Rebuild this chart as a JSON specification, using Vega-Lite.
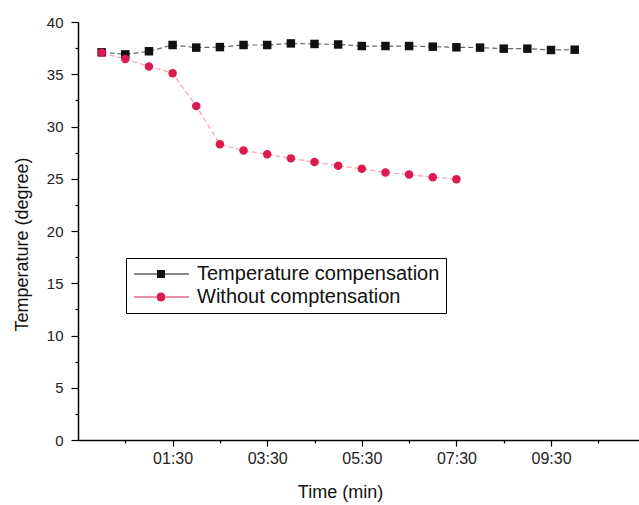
{
  "$schema": "https://vega.github.io/schema/vega-lite/v6.json",
  "width": 561,
  "height": 418,
  "autosize": {"type": "none"},
  "padding": {"left": 78, "top": 22, "right": 0, "bottom": 65},
  "background": "white",
  "config": {
    "view": {"stroke": null},
    "font": "Liberation Sans",
    "axis": {
      "grid": false,
      "domainColor": "#000",
      "domainWidth": 1.5,
      "tickColor": "#000",
      "tickWidth": 1.2,
      "labelFont": "Liberation Sans",
      "titleFont": "Liberation Sans",
      "labelColor": "#222",
      "titleColor": "#111",
      "titleFontWeight": "normal"
    }
  },
  "datasets": {
    "d": [
      {"series": "Temperature compensation", "t": 0, "v": 37.1},
      {"series": "Temperature compensation", "t": 0.5, "v": 36.9},
      {"series": "Temperature compensation", "t": 1.0, "v": 37.2},
      {"series": "Temperature compensation", "t": 1.5, "v": 37.8},
      {"series": "Temperature compensation", "t": 2.0, "v": 37.55},
      {"series": "Temperature compensation", "t": 2.5, "v": 37.6},
      {"series": "Temperature compensation", "t": 3.0, "v": 37.8},
      {"series": "Temperature compensation", "t": 3.5, "v": 37.8},
      {"series": "Temperature compensation", "t": 4.0, "v": 37.95},
      {"series": "Temperature compensation", "t": 4.5, "v": 37.9},
      {"series": "Temperature compensation", "t": 5.0, "v": 37.85},
      {"series": "Temperature compensation", "t": 5.5, "v": 37.7},
      {"series": "Temperature compensation", "t": 6.0, "v": 37.7},
      {"series": "Temperature compensation", "t": 6.5, "v": 37.7},
      {"series": "Temperature compensation", "t": 7.0, "v": 37.64},
      {"series": "Temperature compensation", "t": 7.5, "v": 37.58},
      {"series": "Temperature compensation", "t": 8.0, "v": 37.55},
      {"series": "Temperature compensation", "t": 8.5, "v": 37.45},
      {"series": "Temperature compensation", "t": 9.0, "v": 37.45},
      {"series": "Temperature compensation", "t": 9.5, "v": 37.32},
      {"series": "Temperature compensation", "t": 10.0, "v": 37.35},
      {"series": "Without comptensation", "t": 0, "v": 37.05},
      {"series": "Without comptensation", "t": 0.5, "v": 36.45},
      {"series": "Without comptensation", "t": 1.0, "v": 35.75},
      {"series": "Without comptensation", "t": 1.5, "v": 35.1},
      {"series": "Without comptensation", "t": 2.0, "v": 31.95},
      {"series": "Without comptensation", "t": 2.5, "v": 28.3},
      {"series": "Without comptensation", "t": 3.0, "v": 27.7},
      {"series": "Without comptensation", "t": 3.5, "v": 27.35},
      {"series": "Without comptensation", "t": 4.0, "v": 26.95},
      {"series": "Without comptensation", "t": 4.5, "v": 26.6},
      {"series": "Without comptensation", "t": 5.0, "v": 26.25},
      {"series": "Without comptensation", "t": 5.5, "v": 25.95},
      {"series": "Without comptensation", "t": 6.0, "v": 25.6},
      {"series": "Without comptensation", "t": 6.5, "v": 25.4},
      {"series": "Without comptensation", "t": 7.0, "v": 25.15},
      {"series": "Without comptensation", "t": 7.5, "v": 24.95}
    ]
  },
  "data": {"name": "d"},
  "layer": [
    {
      "mark": {"type": "line", "strokeDash": [5, 3], "strokeWidth": 1.2},
      "encoding": {
        "x": {
          "field": "t", "type": "quantitative",
          "scale": {"domain": [-0.5, 11.36], "nice": false, "zero": false},
          "axis": {
            "orient": "bottom",
            "values": [1.5, 3.5, 5.5, 7.5, 9.5],
            "labelExpr": "(floor(datum.value) < 10 ? '0' : '') + floor(datum.value) + ':' + (datum.value % 1 ? '30' : '00')",
            "tickSize": 6,
            "labelFontSize": 16,
            "labelPadding": 4,
            "title": "Time (min)",
            "titleFontSize": 18,
            "titleX": 262,
            "titlePadding": 17
          }
        },
        "y": {
          "field": "v", "type": "quantitative",
          "scale": {"domain": [0, 40], "nice": false, "zero": true},
          "axis": {
            "orient": "left",
            "values": [0, 5, 10, 15, 20, 25, 30, 35, 40],
            "tickSize": 7,
            "labelFontSize": 15,
            "labelPadding": 8,
            "title": "Temperature (degree)",
            "titleFontSize": 18,
            "titlePadding": 15,
            "titleY": 222
          }
        },
        "color": {
          "field": "series", "type": "nominal",
          "scale": {"domain": ["Temperature compensation", "Without comptensation"], "range": ["#666666", "#f4a0b0"]},
          "legend": null
        }
      }
    },
    {
      "mark": {"type": "point", "filled": true, "opacity": 1, "size": 72},
      "encoding": {
        "x": {
          "field": "t", "type": "quantitative",
          "axis": {
            "orient": "bottom",
            "values": [0.5, 2.5, 4.5, 6.5, 8.5, 10.5],
            "labels": false, "domain": false, "tickSize": 3, "title": null
          }
        },
        "y": {
          "field": "v", "type": "quantitative",
          "axis": {
            "orient": "left",
            "values": [2.5, 7.5, 12.5, 17.5, 22.5, 27.5, 32.5, 37.5],
            "labels": false, "domain": false, "tickSize": 3, "title": null
          }
        },
        "shape": {
          "field": "series", "type": "nominal",
          "scale": {"domain": ["Temperature compensation", "Without comptensation"], "range": ["square", "circle"]},
          "legend": null
        },
        "color": {
          "field": "series", "type": "nominal",
          "scale": {"domain": ["Temperature compensation", "Without comptensation"], "range": ["#111111", "#dc1a50"]},
          "legend": null
        }
      }
    },
    {
      "transform": [{"filter": "datum.t < -1"}],
      "mark": {"type": "point", "filled": true, "opacity": 1},
      "encoding": {
        "x": {"field": "t", "type": "quantitative", "axis": null},
        "y": {"field": "v", "type": "quantitative", "axis": null},
        "shape": {
          "field": "series", "type": "nominal",
          "scale": {
            "domain": ["Temperature compensation", "Without comptensation"],
            "range": [
              "M-1.6,-0.12H3V0.12H-1.6Z M4.6,-0.12H9.4V0.12H4.6Z M3,-0.8H4.6V0.8H3Z",
              "M-1.6,-0.12H3V0.12H-1.6Z M4.6,-0.12H9.4V0.12H4.6Z M2.9,0A0.9,0.9 0 1,0 4.7,0A0.9,0.9 0 1,0 2.9,0Z"
            ]
          },
          "legend": {
            "orient": "none",
            "legendX": 48,
            "legendY": 236,
            "title": null,
            "strokeColor": "#000",
            "fillColor": "#fff",
            "padding": 6,
            "labelFont": "Liberation Sans",
            "labelFontSize": 20,
            "labelColor": "#111",
            "labelOffset": 45,
            "labelLimit": 500,
            "symbolSize": 100,
            "symbolStrokeWidth": 0,
            "symbolOpacity": 1,
            "rowPadding": 3
          }
        },
        "color": {
          "field": "series", "type": "nominal",
          "scale": {"domain": ["Temperature compensation", "Without comptensation"], "range": ["#111111", "#dc1a50"]},
          "legend": {
            "orient": "none",
            "legendX": 48,
            "legendY": 236,
            "title": null,
            "strokeColor": "#000",
            "fillColor": "#fff",
            "padding": 6,
            "labelFont": "Liberation Sans",
            "labelFontSize": 20,
            "labelColor": "#111",
            "labelOffset": 45,
            "labelLimit": 500,
            "symbolSize": 100,
            "symbolStrokeWidth": 0,
            "symbolOpacity": 1,
            "rowPadding": 3
          }
        }
      }
    }
  ],
  "resolve": {
    "scale": {"color": "independent", "shape": "independent"},
    "axis": {"x": "independent", "y": "independent"}
  }
}
